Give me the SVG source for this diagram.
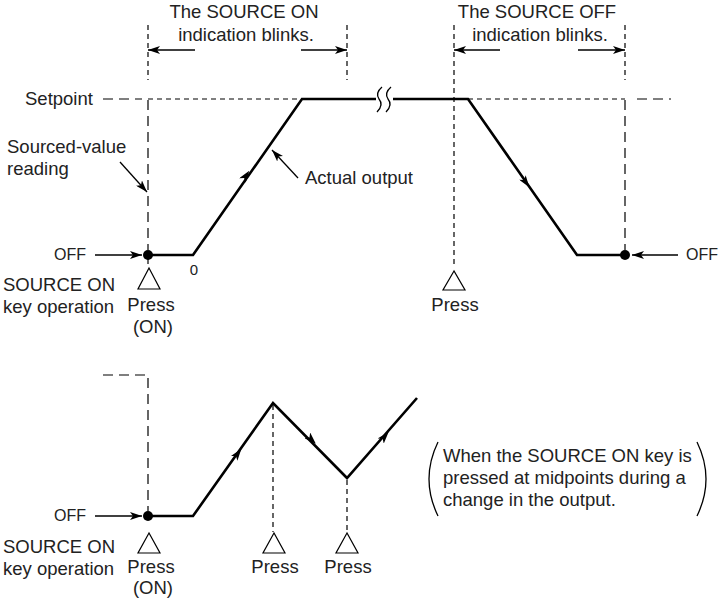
<svg xmlns="http://www.w3.org/2000/svg" width="721" height="599" viewBox="0 0 721 599">
<style>
text{font-family:"Liberation Sans",Arial,sans-serif;fill:#222;font-size:18.5px}
.sm{font-size:16px}
.xs{font-size:15px}
.mid{text-anchor:middle}
.thick{fill:none;stroke:#000;stroke-width:2.6;stroke-linejoin:miter}
.thin{fill:none;stroke:#000;stroke-width:1.3}
.sd{fill:none;stroke:#000;stroke-width:1.2;stroke-dasharray:5 4}
.ld{fill:none;stroke:#000;stroke-width:1.2;stroke-dasharray:10 6}
.tri{fill:#fff;stroke:#000;stroke-width:1.2}
.ar{fill:none;stroke:#000;stroke-width:1.3;marker-end:url(#ah)}
.ma{fill:none;stroke:none;marker-end:url(#mh)}
</style>
<defs>
<marker id="ah" markerUnits="userSpaceOnUse" viewBox="0 0 12 8" refX="12" refY="4" markerWidth="12" markerHeight="8" orient="auto">
<path d="M0,0 L12,4 L0,8 L3,4 z" fill="#000"/>
</marker>
<marker id="mh" markerUnits="userSpaceOnUse" viewBox="0 0 12 8" refX="8" refY="4" markerWidth="12" markerHeight="8" orient="auto">
<path d="M0,0 L12,4 L0,8 L3,4 z" fill="#000"/>
</marker>
</defs>

<g id="guides">
<path class="sd" d="M148,25 V80"/>
<path class="sd" d="M347,25 V80"/>
<path class="sd" d="M454,25 V266"/>
<path class="sd" d="M625,25 V80"/>
<path class="ld" d="M148,100 V250"/>
<path class="ld" d="M625,100 V250"/>
<path class="ld" d="M103,99 H142"/>
<path class="sd" d="M148,99 H302"/>
<path class="sd" d="M468,99 H625"/>
<path class="ld" d="M637,99 H671"/>
<path class="sd" d="M148,259 V268"/>
<path class="ld" d="M103,375 H148 V511"/>
<path class="sd" d="M273,405 V532"/>
<path class="sd" d="M347,480 V532"/>
</g>

<g id="connectors">
<path class="ar" d="M195,50 H148"/>
<path class="ar" d="M301,50 H347"/>
<path class="ar" d="M500,50 H454"/>
<path class="ar" d="M578,50 H625"/>
<path class="ar" d="M120,162 L147,192"/>
<path class="ar" d="M298,178 L272,150"/>
<path class="ar" d="M95,255 H142"/>
<path class="ar" d="M678,255 H632"/>
<path class="ar" d="M95,516 H142"/>
</g>

<g id="output-top">
<path class="thick" d="M148,255 H193 L302,99 H376"/>
<path class="thick" d="M393,99 H468 L577,255 H625"/>
<path class="thin" d="M382,87 Q375,93 379,99 Q384,105 377,112"/>
<path class="thin" d="M391,87 Q384,93 388,99 Q393,105 386,112"/>
<circle cx="148" cy="255" r="5" fill="#000"/>
<circle cx="625" cy="255" r="5" fill="#000"/>
<path class="ma" d="M240,184 L247,174"/>
<path class="ma" d="M520,174 L527,184"/>
</g>

<g id="output-bottom">
<path class="thick" d="M148,516 H193 L273,403 L347,478 L417,398"/>
<circle cx="148" cy="516" r="5" fill="#000"/>
<path class="ma" d="M233,460 L239,452"/>
<path class="ma" d="M306,434 L313,441"/>
<path class="ma" d="M379,443 L386,435"/>
</g>

<g id="triangles">
<polygon class="tri" points="149,268 138,289 160,289"/>
<polygon class="tri" points="454,271 443,290 465,290"/>
<polygon class="tri" points="149,533 138,553 160,553"/>
<polygon class="tri" points="274,533 263,553 285,553"/>
<polygon class="tri" points="347,533 336,553 358,553"/>
</g>

<g id="labels-top">
<text class="mid" x="244" y="18">The SOURCE ON</text>
<text class="mid" x="246" y="41">indication blinks.</text>
<text class="mid" x="537" y="18">The SOURCE OFF</text>
<text class="mid" x="540" y="41">indication blinks.</text>
<text x="25" y="105">Setpoint</text>
<text x="7" y="153">Sourced-value</text>
<text x="7" y="175">reading</text>
<text x="305" y="184">Actual output</text>
<text class="sm" x="54" y="260">OFF</text>
<text class="sm" x="686" y="260">OFF</text>
<text class="xs mid" x="194" y="275">0</text>
<text x="3" y="291">SOURCE ON</text>
<text x="3" y="313">key operation</text>
<text class="mid" x="151" y="311">Press</text>
<text class="mid" x="153" y="333">(ON)</text>
<text class="mid" x="455" y="311">Press</text>
</g>

<g id="labels-bottom">
<text class="sm" x="54" y="521">OFF</text>
<text x="3" y="553">SOURCE ON</text>
<text x="3" y="575">key operation</text>
<text class="mid" x="151" y="573">Press</text>
<text class="mid" x="153" y="594">(ON)</text>
<text class="mid" x="275" y="573">Press</text>
<text class="mid" x="348" y="573">Press</text>
</g>

<g id="note">
<path class="thin" d="M438,442 Q420,479 438,516"/>
<path class="thin" d="M697,442 Q715,479 697,516"/>
<text x="443" y="462">When the SOURCE ON key is</text>
<text x="443" y="484">pressed at midpoints during a</text>
<text x="443" y="506">change in the output.</text>
</g>
</svg>
